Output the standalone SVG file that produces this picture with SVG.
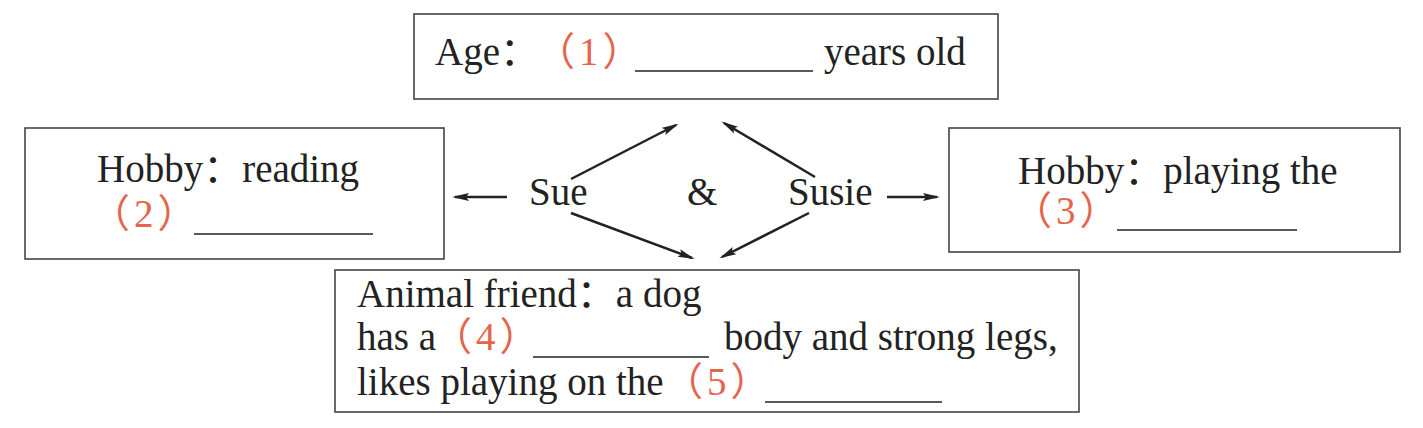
<svg xmlns="http://www.w3.org/2000/svg" width="1423" height="428" viewBox="0 0 1423 428">
<defs>
<marker id="ah" markerWidth="18" markerHeight="10" refX="14" refY="5" orient="auto" markerUnits="userSpaceOnUse"><path d="M0,1 L17,5 L0,9 L3,5 Z" fill="#222"/></marker>
</defs>
<style>
.box{fill:#fff;stroke:#444;stroke-width:1.6}
.t{font-family:"Liberation Serif","Noto Sans CJK SC",serif;font-size:39px;fill:#222}
.r{fill:#e5654c;letter-spacing:4px}
.u{stroke:#222;stroke-width:1.6}
.c{stroke:#222;stroke-width:2.5;fill:none;marker-end:url(#ah)}
</style>
<rect width="1423" height="428" fill="#fff"/>

<g id="age">
<rect class="box" x="414" y="14" width="584" height="85"/>
<text class="t" y="65"><tspan x="435">Age：</tspan><tspan class="r" x="536">（1）</tspan><tspan x="824">years old</tspan></text>
<line class="u" x1="635" y1="71" x2="813" y2="71"/>
</g>

<g id="hobby-sue">
<rect class="box" x="25" y="128" width="419" height="131"/>
<text class="t" x="97" y="182">Hobby：reading</text>
<text class="t r" x="91" y="227">（2）</text>
<line class="u" x1="194" y1="234" x2="373" y2="234"/>
</g>

<g id="hobby-susie">
<rect class="box" x="949" y="128" width="451" height="124"/>
<text class="t" x="1018" y="184">Hobby：playing the</text>
<text class="t r" x="1013" y="224">（3）</text>
<line class="u" x1="1117" y1="230" x2="1297" y2="230"/>
</g>

<g id="animal">
<rect class="box" x="335" y="270" width="744" height="142"/>
<text class="t" x="357" y="307">Animal friend：a dog</text>
<text class="t" y="350"><tspan x="357">has a</tspan><tspan class="r" x="433">（4）</tspan><tspan x="724">body and strong legs,</tspan></text>
<line class="u" x1="533" y1="357" x2="709" y2="357"/>
<text class="t" y="395"><tspan x="357">likes playing on the</tspan><tspan class="r" x="664">（5）</tspan></text>
<line class="u" x1="765" y1="402" x2="942" y2="402"/>
</g>

<g id="sue"><text class="t" x="529" y="205">Sue</text></g>
<g id="amp"><text class="t" x="687" y="205">&amp;</text></g>
<g id="susie"><text class="t" x="788" y="205">Susie</text></g>

<g id="connectors">
<line class="c" x1="571" y1="179" x2="676" y2="125"/>
<line class="c" x1="815" y1="177" x2="724" y2="123"/>
<line class="c" x1="571" y1="213" x2="692" y2="258"/>
<line class="c" x1="809" y1="213" x2="722" y2="257"/>
<line class="c" x1="507" y1="197" x2="455" y2="197"/>
<line class="c" x1="887" y1="197" x2="937" y2="197"/>
</g>
</svg>
